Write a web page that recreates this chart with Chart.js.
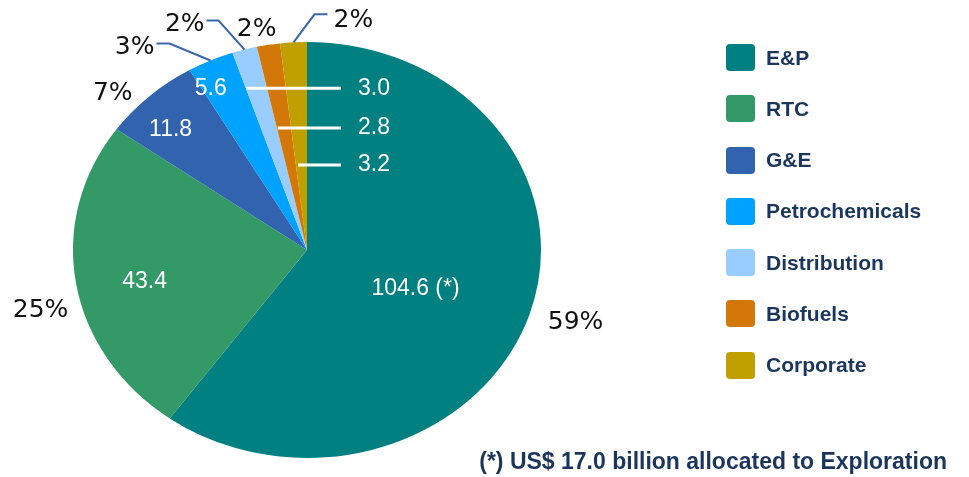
<!DOCTYPE html>
<html>
<head>
<meta charset="utf-8">
<script src="https://cdn.jsdelivr.net/npm/chart.js@4/dist/chart.umd.min.js"></script>
<style>
  body{margin:0;background:#fff;}
  #wrap{position:relative;width:969px;height:477px;overflow:hidden;}
  #legend{position:absolute;left:726px;top:44px;margin:0;padding:0;list-style:none;}
  #legend li{display:flex;align-items:center;height:27px;margin-bottom:24.3px;
    font:bold 21px "Liberation Sans",Arial,sans-serif;color:#1b365d;}
  #legend span.box{display:inline-block;width:29px;height:27px;border-radius:4px;margin-right:11px;}
  #note{position:absolute;right:22px;top:448px;font:bold 23px "Liberation Sans",Arial,sans-serif;color:#1b365d;}
</style>
</head>
<body>
<div id="wrap">
  <canvas id="pie-chart" width="969" height="477"></canvas>
  <ul id="legend"></ul>
  <div id="note">(*) US$ 17.0 billion allocated to Exploration</div>
</div>
<script>
const segments = ["E&P","RTC","G&E","Petrochemicals","Distribution","Biofuels","Corporate"];
const investment = [104.6, 43.4, 11.8, 5.6, 3.0, 2.8, 3.2];
const valueNotes = [" (*)", "", "", "", "", "", ""];
const shareLabels = ["59%","25%","7%","3%","2%","2%","2%"];
const colors = ["#008080","#339966","#3163ae","#00a2ff","#99ccff","#d37808","#c0a000"];

// pie is drawn a bit wider than tall, like the slide
const SX = 1.125;

// where the labels go (radius as share of pie radius, da = angle nudge in degrees)
const valuePos = [{r:0.5,da:4},{r:0.71,da:-3},{r:0.82,da:-3},{r:0.88,da:-3.5},
  {r:0.82,da:-3,line:true},{r:0.6,da:-2.5,line:true},{r:0.41,da:-2,line:true}];
const sharePos = [{r:1.2,da:-1},{r:1.175,da:-5},{r:1.12,da:-5.5},{elbow:[-41,-17],tail:-13},
  {elbow:[-26,-29],tail:-12},{r:1.08,da:-2},{elbow:[21,-28],tail:13}];

function pt(arc, a, rf){
  return {x: arc.x + SX*arc.outerRadius*rf*Math.cos(a), y: arc.y + arc.outerRadius*rf*Math.sin(a)};
}
const rad = d => d*Math.PI/180;

const stretch = {
  id:"stretch",
  beforeDatasetsDraw(chart){
    const arc = chart.getDatasetMeta(0).data[0];
    const ctx = chart.ctx;
    ctx.save();
    ctx.translate(arc.x, arc.y);
    ctx.scale(SX, 1);
    ctx.translate(-arc.x, -arc.y);
  },
  afterDatasetsDraw(chart){
    chart.ctx.restore();
  }
};

const labels = {
  id:"labels",
  afterDraw(chart){
    const ctx = chart.ctx;
    const arcs = chart.getDatasetMeta(0).data;
    ctx.save();
    arcs.forEach((arc,i)=>{
      const mid = (arc.startAngle + arc.endAngle)/2;
      // value inside the slice
      const v = valuePos[i];
      const p = pt(arc, mid + rad(v.da||0), v.r);
      const txt = investment[i].toFixed(1) + valueNotes[i];
      ctx.font = "23px 'Liberation Sans', Arial, sans-serif";
      ctx.fillStyle = "#fff";
      ctx.textBaseline = "middle";
      if(v.line){
        ctx.strokeStyle = "#fff";
        ctx.lineWidth = 3;
        ctx.beginPath();
        ctx.moveTo(p.x, p.y);
        ctx.lineTo(arc.x + 34, p.y);
        ctx.stroke();
        ctx.textAlign = "left";
        ctx.fillText(txt, arc.x + 51, p.y);
      }else{
        ctx.textAlign = "center";
        ctx.fillText(txt, p.x, p.y);
      }

      // share outside the pie
      const s = sharePos[i];
      ctx.font = "25px 'DejaVu Sans', sans-serif";
      ctx.fillStyle = "#111";
      if(s.elbow){
        const e = pt(arc, mid, 1);
        const ex = e.x + s.elbow[0], ey = e.y + s.elbow[1];
        ctx.strokeStyle = "#3a66b0";
        ctx.lineWidth = 2;
        ctx.beginPath();
        ctx.moveTo(e.x, e.y);
        ctx.lineTo(ex, ey);
        ctx.lineTo(ex + s.tail, ey);
        ctx.stroke();
        ctx.textAlign = s.tail < 0 ? "right" : "left";
        ctx.fillText(shareLabels[i], ex + s.tail + (s.tail < 0 ? -2 : 6), ey + (s.tail < 0 ? 4 : 6));
      }else{
        const q = pt(arc, mid + rad(s.da||0), s.r);
        ctx.textAlign = "center";
        ctx.fillText(shareLabels[i], q.x, q.y);
      }
    });
    ctx.restore();
  }
};

new Chart(document.getElementById("pie-chart").getContext("2d"),{
  type:"pie",
  data:{labels:segments, datasets:[{data:investment, backgroundColor:colors, borderWidth:0}]},
  options:{
    responsive:false,
    animation:false,
    layout:{padding:{left:99,right:454,top:42,bottom:19}},
    plugins:{legend:{display:false}, tooltip:{enabled:false}}
  },
  plugins:[stretch, labels]
});

// legend
const legend = document.getElementById("legend");
segments.forEach((name,i)=>{
  const li = document.createElement("li");
  li.innerHTML = `<span class="box" style="background:${colors[i]}"></span>`;
  li.appendChild(document.createTextNode(name));
  legend.appendChild(li);
});
</script>
</body>
</html>
